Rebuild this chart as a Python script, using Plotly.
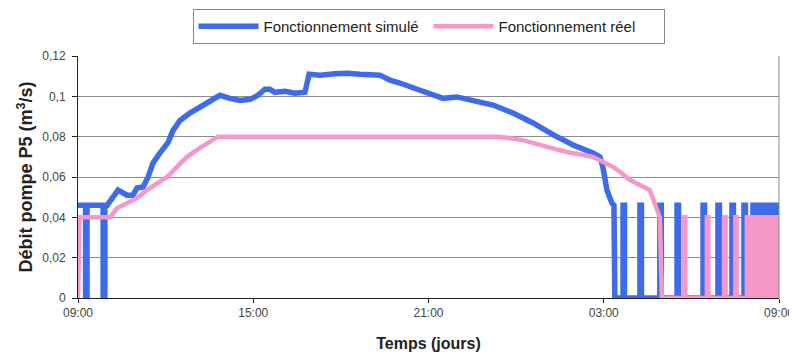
import plotly.graph_objects as go

# ---------------- data (hours after 09:00) ----------------
sim_curve_hours = [0.00, 0.26, 0.26, 0.31, 0.31, 0.86, 0.86, 0.92, 0.92, 1.00,
                   1.10, 1.37, 1.68, 1.88, 2.02, 2.23, 2.40, 2.57, 2.81, 3.08,
                   3.25, 3.49, 3.83, 4.28, 4.62, 4.86, 5.20, 5.55, 5.89, 6.16,
                   6.40, 6.57, 6.74, 7.09, 7.43, 7.77, 7.91, 8.28, 8.80, 9.21,
                   9.65, 10.00, 10.34, 10.68, 11.02, 11.71, 12.50, 12.97, 13.52, 14.21,
                   14.89, 15.58, 16.26, 16.95, 17.63, 17.87, 17.97, 18.11, 18.28, 18.35,
                   18.38]
sim_curve_values = [0.046, 0.046, 0.0, 0.0, 0.046, 0.046, 0.0, 0.0, 0.046, 0.046,
                    0.048, 0.0535, 0.051, 0.051, 0.0545, 0.055, 0.060, 0.067, 0.072, 0.077,
                    0.083, 0.088, 0.0917, 0.0957, 0.099, 0.1005, 0.099, 0.098, 0.0985, 0.1005,
                    0.1035, 0.1035, 0.102, 0.1025, 0.1015, 0.102, 0.111, 0.1105, 0.1112, 0.1115,
                    0.111, 0.1105, 0.1105, 0.108, 0.1066, 0.103, 0.099, 0.0997, 0.098, 0.0957,
                    0.0917, 0.0868, 0.081, 0.0759, 0.0719, 0.070, 0.065, 0.0535, 0.047, 0.046,
                    0.0]
sim_pulse_starts = [18.66, 19.24, 19.92, 20.51, 21.40, 21.91, 22.39, 22.80,
                    23.11, 23.28, 23.45, 23.62, 23.79, 23.94]
sim_pulse_len = 0.05
sim_pulse_level = 0.046

real_curve_hours = [0.00, 0.05, 1.10, 1.34, 1.68, 2.02, 2.36, 2.70, 3.05, 3.39,
                    3.73, 4.18, 4.62, 4.79, 14.45, 15.23, 16.06, 16.74, 17.63, 18.32,
                    18.56, 18.90, 19.58, 19.75, 19.92, 19.99]
real_curve_values = [0.0, 0.040, 0.040, 0.0446, 0.047, 0.0496, 0.0535, 0.057, 0.060, 0.065,
                     0.070, 0.0744, 0.078, 0.080, 0.080, 0.0783, 0.0749, 0.0724, 0.070, 0.065,
                     0.0625, 0.0585, 0.0535, 0.047, 0.040, 0.0]
real_pulse_starts = [20.74, 21.53, 22.12, 22.50, 22.90, 23.05, 23.20, 23.35,
                     23.50, 23.65, 23.80, 23.95]
real_pulse_len = 0.05
real_pulse_level = 0.040

x_tickvals = [0, 6, 12, 18, 24]
x_ticktext = ["09:00", "15:00", "21:00", "03:00", "09:00"]
y_tickvals = [0, 0.02, 0.04, 0.06, 0.08, 0.10, 0.12]
y_ticktext = ["0", "0,02", "0,04", "0,06", "0,08", "0,1", "0,12"]


def with_pulses(hours, values, starts, length, level, end=24.0):
    h, v = list(hours), list(values)
    for s in starts:
        h += [s, s, s + length, s + length]
        v += [0.0, level, level, 0.0]
    h.append(end)
    v.append(0.0)
    return h, v


sim_h, sim_v = with_pulses(sim_curve_hours, sim_curve_values, sim_pulse_starts,
                           sim_pulse_len, sim_pulse_level)
real_h, real_v = with_pulses(real_curve_hours, real_curve_values, real_pulse_starts,
                             real_pulse_len, real_pulse_level)

FONT = "Liberation Sans, Arial, sans-serif"
# the page body has an 8px default margin, so the figure is drawn 8px smaller
W, H = 789, 346

fig = go.Figure()
fig.add_trace(go.Scatter(x=sim_h, y=sim_v, mode="lines", name="Fonctionnement simulé",
                         line=dict(color="#3D6BEA", width=5.5)))
fig.add_trace(go.Scatter(x=real_h, y=real_v, mode="lines", name="Fonctionnement réel",
                         line=dict(color="#F597C8", width=4.5)))

fig.update_layout(
    width=W, height=H,
    margin=dict(l=70, r=18, t=48, b=56),
    paper_bgcolor="white", plot_bgcolor="white",
    font=dict(family=FONT, color="#333333", size=11),
    showlegend=True,
    legend=dict(orientation="h", xref="container", yref="container",
                x=420.5 / W, xanchor="center", y=1 - 1 / H, yanchor="top",
                bordercolor="#8a8a8a", borderwidth=1, bgcolor="white",
                font=dict(size=15, color="#222222"),
                entrywidth=160, entrywidthmode="pixels", itemwidth=60,
                traceorder="normal"),
    xaxis=dict(range=[0, 24], tickvals=x_tickvals, ticktext=x_ticktext,
               automargin=False,
               showgrid=False, zeroline=False, showline=True, linecolor="#222222",
               linewidth=1, ticks="outside", ticklen=4, tickcolor="#222222",
               tickfont=dict(size=12, color="#444444"),
               title=dict(text="<b>Temps (jours)</b>", font=dict(size=16, color="#222222"),
                          standoff=18)),
    yaxis=dict(range=[0, 0.12], tickvals=y_tickvals, ticktext=y_ticktext,
               automargin=False, ticklabelstandoff=4,
               showgrid=True, gridcolor="#8c8c8c", gridwidth=1, zeroline=False,
               showline=True, linecolor="#222222", linewidth=1,
               ticks="outside", ticklen=5, tickcolor="#222222",
               tickfont=dict(size=12, color="#444444"),
               title=dict(text="<b>Débit pompe P5 (m<sup>3</sup>/s)</b>",
                          font=dict(size=18, color="#222222"), standoff=4)),
    shapes=[dict(type="line", xref="paper", yref="paper", x0=1, x1=1, y0=0, y1=1,
                 line=dict(color="#8c8c8c", width=1))],
)

fig.write_html("out.html")
